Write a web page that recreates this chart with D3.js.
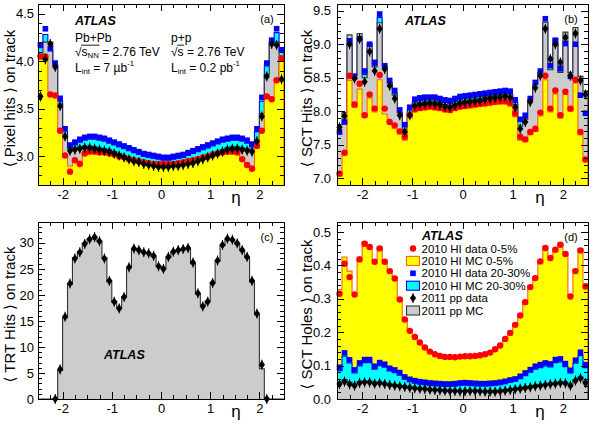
<!DOCTYPE html>
<html><head><meta charset="utf-8">
<script src="https://cdn.jsdelivr.net/npm/d3@7"></script>
<style>body{margin:0;background:#fff} text{white-space:pre}</style>
</head><body>
<svg id="c" width="595" height="425" xmlns="http://www.w3.org/2000/svg"></svg>
<script>
// ---------- categories / tick labels ----------
const etaEdges = d3.range(51).map(i => +(-2.5 + i * 0.1).toFixed(2));
const xTickLabels = ["-2", "-1", "0", "1", "2"];
const yTickLabelsA = ["3.0", "3.5", "4.0", "4.5"];
const yTickLabelsB = ["7.0", "7.5", "8.0", "8.5", "9.0", "9.5"];
const yTickLabelsC = ["0", "5", "10", "15", "20", "25", "30"];
const yTickLabelsD = ["0.0", "0.1", "0.2", "0.3", "0.4", "0.5"];
const legendLabels = ["2010 HI data 0-5%", "2010 HI MC 0-5%", "2010 HI data 20-30%", "2010 HI MC 20-30%", "2011 pp data", "2011 pp MC"];

// ---------- (a) Pixel hits ----------
const pixHIdata0_5 = [4.05,4.05,3.65,3.64,3.27,3.01,2.84,2.96,2.92,3.03, 3.05,3.05,3.04,3.04,3.03,3.02,3.00,2.99,2.97,2.96, 2.95,2.94,2.93,2.92,2.92,2.92,2.92,2.92,2.93,2.94, 2.95,2.96,2.97,2.99,3.00,3.02,3.03,3.04,3.05,3.05, 3.04,2.97,2.91,2.87,3.11,3.27,3.63,3.60,3.80,4.03];
const pixHIMC0_5   = [4.02,4.05,3.66,3.66,3.28,3.00,2.90,2.97,2.95,3.04, 3.06,3.06,3.05,3.04,3.03,3.02,3.01,2.99,2.98,2.97, 2.96,2.95,2.94,2.93,2.93,2.93,2.93,2.93,2.94,2.95, 2.96,2.97,2.98,3.00,3.01,3.03,3.04,3.05,3.06,3.06, 3.05,2.99,2.93,2.90,3.10,3.28,3.64,3.62,3.81,4.02];
const pixHIdata20_30 = [4.17,4.34,4.13,3.98,3.61,3.29,3.12,3.15,3.18,3.20, 3.21,3.21,3.20,3.19,3.17,3.15,3.13,3.11,3.09,3.07, 3.05,3.03,3.02,3.01,3.00,2.99,2.99,3.00,3.01,3.02, 3.04,3.06,3.08,3.10,3.12,3.14,3.16,3.18,3.19,3.20, 3.20,3.19,3.17,3.13,3.29,3.62,3.98,4.22,4.34,4.12];
const pixHIMC20_30   = [4.14,4.28,4.10,3.95,3.58,3.27,3.09,3.12,3.15,3.17, 3.18,3.18,3.17,3.16,3.14,3.12,3.10,3.08,3.06,3.04, 3.02,3.00,2.99,2.98,2.97,2.96,2.96,2.97,2.98,2.99, 3.01,3.03,3.05,3.07,3.09,3.11,3.13,3.15,3.16,3.17, 3.17,3.16,3.14,3.10,3.26,3.58,3.95,4.18,4.30,4.10];
const pixPPdata = [3.63,4.02,4.18,3.94,3.53,3.21,3.06,3.07,3.08,3.09, 3.09,3.08,3.07,3.06,3.05,3.03,3.01,2.99,2.97,2.95, 2.94,2.92,2.91,2.90,2.89,2.89,2.89,2.90,2.90,2.91, 2.92,2.93,2.95,2.97,2.99,3.01,3.03,3.05,3.07,3.08, 3.08,3.07,3.06,3.05,3.16,3.42,3.84,4.18,4.17,3.81];
const pixPPMC   = [3.72,4.20,4.20,3.96,3.55,3.22,3.08,3.09,3.10,3.11, 3.11,3.10,3.09,3.08,3.07,3.05,3.03,3.01,2.99,2.97, 2.95,2.94,2.93,2.92,2.91,2.91,2.91,2.91,2.92,2.93, 2.94,2.95,2.97,2.99,3.01,3.03,3.05,3.07,3.09,3.10, 3.10,3.09,3.08,3.07,3.17,3.45,3.86,4.20,4.20,3.82];

// ---------- (b) SCT hits ----------
const sctHIdata0_5 = [7.07,7.38,8.53,8.10,8.41,7.94,8.25,8.04,8.54,8.04, 7.84,7.79,7.70,7.62,7.95,8.03,8.05,8.06,8.07,8.06, 8.05,8.03,8.02,8.05,8.07,8.08,8.09,8.10,8.11,8.12, 8.13,8.14,8.15,8.15,8.12,7.97,7.62,7.58,7.69,7.74, 7.98,8.53,8.04,8.31,7.94,8.29,8.04,8.47,7.69,7.28];
const sctHIMC0_5   = [7.03,7.35,8.46,8.06,8.33,7.91,8.20,7.99,8.47,7.96, 7.81,7.74,7.66,7.57,7.90,7.99,8.01,8.02,8.03,8.02, 8.01,7.99,7.98,8.01,8.03,8.04,8.05,8.06,8.07,8.08, 8.09,8.10,8.11,8.11,8.08,7.92,7.57,7.55,7.65,7.70, 7.93,8.47,7.99,8.26,7.90,8.25,8.00,8.42,7.65,7.25];
const sctHIdata20_30 = [7.69,7.84,9.05,8.52,9.08,8.60,9.00,8.73,9.45,8.68, 8.46,8.31,8.02,7.80,8.06,8.18,8.20,8.21,8.21,8.21, 8.19,8.17,8.16,8.19,8.22,8.23,8.24,8.25,8.26,8.27, 8.28,8.29,8.30,8.31,8.30,8.17,7.88,7.94,8.19,8.43, 8.60,9.38,8.68,9.06,8.64,9.01,8.52,9.00,8.24,7.97];
const sctHIMC20_30   = [7.62,7.80,9.00,8.47,9.02,8.55,8.94,8.68,9.40,8.63, 8.42,8.27,7.97,7.78,8.02,8.14,8.16,8.17,8.17,8.17, 8.15,8.13,8.12,8.15,8.18,8.19,8.20,8.21,8.22,8.23, 8.24,8.25,8.26,8.27,8.26,8.13,7.85,7.90,8.15,8.39, 8.56,9.32,8.70,9.01,8.60,8.96,8.48,8.95,8.20,7.85];
const sctPPdata = [7.76,7.93,9.00,8.49,9.08,8.44,8.89,8.60,9.23,8.63, 8.38,8.19,7.94,7.69,7.94,8.08,8.10,8.11,8.12,8.11, 8.10,8.07,8.06,8.09,8.12,8.13,8.14,8.15,8.16,8.18, 8.19,8.20,8.21,8.22,8.20,8.06,7.74,7.84,8.14,8.35, 8.53,9.23,8.78,9.00,8.73,9.10,8.53,9.16,8.46,8.25];
const sctPPMC   = [7.80,7.98,9.14,8.55,9.16,8.50,9.01,8.66,9.32,8.68, 8.42,8.24,7.98,7.73,7.98,8.11,8.13,8.14,8.15,8.14, 8.13,8.10,8.09,8.12,8.15,8.16,8.17,8.18,8.19,8.21, 8.22,8.23,8.24,8.25,8.23,8.10,7.78,7.88,8.18,8.40, 8.58,9.33,8.62,9.08,8.58,9.18,8.58,9.25,8.52,8.30];

// ---------- (c) TRT hits ----------
const trtPPdata = [null,null,null,0,5.7,15.8,22.2,27.0,28.2,29.8, 30.7,31.1,30.3,27.0,22.7,18.7,17.4,19.6,25.3,28.9, 28.6,28.2,28.0,27.5,25.5,25.0,27.3,28.3,28.6,28.8, 29.0,26.2,20.3,17.8,18.7,22.3,26.6,29.6,30.8,30.6, 29.9,28.6,27.3,22.7,16.4,6.6,0,null,null,null];
const trtPPMC   = [0,0,0,0,5.5,15.6,22.0,27.1,28.3,29.9, 30.8,31.0,30.2,27.1,22.5,18.6,17.5,19.7,25.2,28.8, 28.5,28.1,27.9,27.4,25.6,25.1,27.2,28.2,28.5,28.7, 28.9,26.0,20.2,17.9,18.8,22.4,26.5,29.5,30.7,30.5, 29.8,28.5,27.2,22.5,16.2,5.8,0,0,0,0];

// ---------- (d) SCT holes ----------
const holHIdata0_5 = [0.315,0.405,0.365,0.313,0.418,0.465,0.455,0.411,0.451,0.411, 0.383,0.361,0.298,0.238,0.204,0.186,0.169,0.154,0.142,0.134, 0.129,0.126,0.126,0.125,0.127,0.128,0.128,0.129,0.131,0.134, 0.139,0.149,0.160,0.180,0.198,0.222,0.250,0.290,0.335,0.362, 0.412,0.452,0.422,0.447,0.462,0.434,0.307,0.383,0.445,0.337];
const holHIMC0_5   = [0.328,0.425,0.383,0.318,0.425,0.471,0.459,0.417,0.456,0.416, 0.386,0.366,0.302,0.242,0.208,0.190,0.172,0.157,0.145,0.137, 0.132,0.129,0.128,0.128,0.129,0.130,0.130,0.131,0.133,0.136, 0.141,0.152,0.163,0.183,0.201,0.225,0.254,0.294,0.339,0.366, 0.416,0.456,0.426,0.451,0.466,0.438,0.310,0.388,0.450,0.345];
const holHIdata20_30 = [0.095,0.138,0.117,0.087,0.108,0.118,0.118,0.098,0.109,0.104, 0.092,0.087,0.079,0.066,0.059,0.055,0.052,0.050,0.048,0.047, 0.046,0.045,0.045,0.046,0.048,0.049,0.048,0.047,0.046,0.046, 0.047,0.048,0.050,0.053,0.057,0.060,0.068,0.078,0.088,0.098, 0.103,0.108,0.105,0.118,0.120,0.106,0.086,0.116,0.140,0.103];
const holHIMC20_30   = [0.085,0.128,0.108,0.078,0.099,0.109,0.109,0.089,0.100,0.095, 0.084,0.079,0.071,0.059,0.052,0.048,0.045,0.043,0.041,0.040, 0.039,0.038,0.038,0.039,0.041,0.042,0.041,0.040,0.039,0.039, 0.040,0.041,0.043,0.046,0.050,0.053,0.061,0.070,0.080,0.089, 0.094,0.099,0.096,0.109,0.111,0.097,0.078,0.107,0.130,0.094];
const holPPdata = [0.045,0.052,0.044,0.040,0.048,0.050,0.050,0.046,0.048,0.045, 0.042,0.040,0.038,0.036,0.034,0.032,0.031,0.030,0.028,0.027, 0.026,0.025,0.024,0.024,0.023,0.023,0.024,0.024,0.023,0.022, 0.022,0.022,0.023,0.025,0.027,0.029,0.031,0.033,0.035,0.038, 0.040,0.042,0.044,0.046,0.048,0.047,0.040,0.055,0.062,0.048];
const holPPMC   = [0.050,0.058,0.050,0.044,0.052,0.054,0.053,0.050,0.051,0.048, 0.045,0.043,0.040,0.038,0.036,0.034,0.033,0.031,0.030,0.029, 0.028,0.027,0.026,0.026,0.025,0.025,0.026,0.026,0.025,0.025, 0.025,0.025,0.026,0.028,0.030,0.032,0.034,0.036,0.038,0.041, 0.043,0.045,0.047,0.049,0.051,0.050,0.044,0.058,0.066,0.052];

// ---------- styles / layout ----------
const FONT = '"Liberation Sans", Arial, Helvetica, "DejaVu Sans", sans-serif';
const ST = {
  yellow: {fill: "#ffff00", stroke: "#ff6600"},
  cyan:   {fill: "#00ffff", stroke: "#0000ee"},
  gray:   {fill: "#cccccc", stroke: "#333333"}
};
const xMajor = xTickLabels.map(Number);
const xMinor = d3.range(-2.5, 2.5001, 0.25).filter(v => Math.abs(v - Math.round(v)) > 1e-6);

const panels = [
  {id: "a", l: 38, t: 4, r: 284, b: 185, yDom: [2.7, 4.6], yLab: yTickLabelsA, yMinorStep: 0.1, pad: 4, ylx: 10,
   title: "\u27E8 Pixel hits \u27E9 on track", tag: "(a)",
   hists: [["cyan", pixHIMC20_30], ["gray", pixPPMC], ["yellow", pixHIMC0_5]],
   blue: pixHIdata20_30, red: pixHIdata0_5, black: pixPPdata},
  {id: "b", l: 337, t: 4, r: 588, b: 185, yDom: [6.9, 9.6], yLab: yTickLabelsB, yMinorStep: 0.1, pad: 6, ylx: 307,
   title: "\u27E8 SCT Hits \u27E9 on track", tag: "(b)",
   hists: [["cyan", sctHIMC20_30], ["gray", sctPPMC], ["yellow", sctHIMC0_5]],
   blue: sctHIdata20_30, red: sctHIdata0_5, black: sctPPdata},
  {id: "c", l: 38, t: 222, r: 284, b: 399, yDom: [0, 34], yLab: yTickLabelsC, yMinorStep: 1, pad: 4, ylx: 10,
   title: "\u27E8 TRT Hits \u27E9 on track", tag: "(c)",
   hists: [["gray", trtPPMC]],
   blue: null, red: null, black: trtPPdata},
  {id: "d", l: 337, t: 222, r: 588, b: 399, yDom: [0, 0.53], yLab: yTickLabelsD, yMinorStep: 0.02, pad: 6, ylx: 307,
   title: "\u27E8 SCT Holes \u27E9 on track", tag: "(d)",
   hists: [["yellow", holHIMC0_5], ["cyan", holHIMC20_30], ["gray", holPPMC]],
   blue: holHIdata20_30, red: holHIdata0_5, black: holPPdata}
];

const svg = d3.select("#c");
const defs = svg.append("defs");

function diamond(g, cx, cy) {
  g.append("line").attr("x1", cx).attr("x2", cx).attr("y1", cy - 5).attr("y2", cy + 5)
    .attr("stroke", "#000").attr("stroke-width", 1);
  g.append("path").attr("d", `M${cx},${cy - 4.3}L${cx + 3.1},${cy}L${cx},${cy + 4.3}L${cx - 3.1},${cy}Z`).attr("fill", "#000");
}

panels.forEach(p => {
  const x = d3.scaleLinear().domain([-2.5, 2.5]).range([p.l, p.r]);
  const y = d3.scaleLinear().domain(p.yDom).range([p.b, p.t]);
  const g = svg.append("g");
  defs.append("clipPath").attr("id", "clip" + p.id).append("rect")
    .attr("x", p.l).attr("y", p.t).attr("width", p.r - p.l).attr("height", p.b - p.t);
  const body = g.append("g").attr("clip-path", `url(#clip${p.id})`);

  // histograms
  p.hists.forEach(([key, vals]) => {
    let d = `M${x(etaEdges[0])},${p.b + 2}`;
    vals.forEach((v, i) => { d += `L${x(etaEdges[i])},${y(v)}L${x(etaEdges[i + 1])},${y(v)}`; });
    d += `L${x(etaEdges[50])},${p.b + 2}Z`;
    body.append("path").attr("d", d).attr("fill", ST[key].fill)
      .attr("stroke", ST[key].stroke).attr("stroke-width", 1.1);
  });

  const cx = i => x((etaEdges[i] + etaEdges[i + 1]) / 2);
  const mk = g.append("g");
  if (p.blue) p.blue.forEach((v, i) => {
    if (v == null) return;
    mk.append("rect").attr("x", cx(i) - 2.8).attr("y", y(v) - 2.8).attr("width", 5.6).attr("height", 5.6).attr("fill", "#0000ff");
  });
  if (p.red) p.red.forEach((v, i) => {
    if (v == null) return;
    mk.append("circle").attr("cx", cx(i)).attr("cy", y(v)).attr("r", 3.2).attr("fill", "#ff0000");
  });
  p.black.forEach((v, i) => { if (v != null) diamond(mk, cx(i), y(v)); });

  // axes
  const style = s => { s.select(".domain").remove(); s.attr("font-size", 13).attr("font-family", FONT);
    s.selectAll("line").attr("shape-rendering", "crispEdges"); };
  const yMajor = p.yLab.map(Number);
  const yMinor = d3.range(p.yDom[0], p.yDom[1] + 1e-9, p.yMinorStep)
    .filter(v => !yMajor.some(m => Math.abs(m - v) < p.yMinorStep * 0.01));
  g.append("g").attr("transform", `translate(0,${p.b})`)
    .call(d3.axisBottom(x).tickValues(xMajor).tickFormat((d, i) => xTickLabels[i]).tickSize(-7).tickPadding(5)).call(style);
  g.append("g").attr("transform", `translate(0,${p.b})`)
    .call(d3.axisBottom(x).tickValues(xMinor).tickFormat("").tickSize(-4)).call(style);
  g.append("g").attr("transform", `translate(0,${p.t})`)
    .call(d3.axisTop(x).tickValues(xMajor).tickFormat("").tickSize(-7)).call(style);
  g.append("g").attr("transform", `translate(0,${p.t})`)
    .call(d3.axisTop(x).tickValues(xMinor).tickFormat("").tickSize(-4)).call(style);
  g.append("g").attr("transform", `translate(${p.l},0)`)
    .call(d3.axisLeft(y).tickValues(yMajor).tickFormat((d, i) => p.yLab[i]).tickSize(-7).tickPadding(p.pad)).call(style);
  g.append("g").attr("transform", `translate(${p.l},0)`)
    .call(d3.axisLeft(y).tickValues(yMinor).tickFormat("").tickSize(-4)).call(style);
  g.append("g").attr("transform", `translate(${p.r},0)`)
    .call(d3.axisRight(y).tickValues(yMajor).tickFormat("").tickSize(-7)).call(style);
  g.append("g").attr("transform", `translate(${p.r},0)`)
    .call(d3.axisRight(y).tickValues(yMinor).tickFormat("").tickSize(-4)).call(style);

  g.append("rect").attr("x", p.l).attr("y", p.t).attr("width", p.r - p.l).attr("height", p.b - p.t)
    .attr("fill", "none").attr("stroke", "#000").attr("stroke-width", 1).attr("shape-rendering", "crispEdges");

  // titles
  g.append("text").attr("transform", `translate(${p.ylx + 5},${(p.t + p.b) / 2 + 4}) rotate(-90)`)
    .attr("text-anchor", "middle").attr("font-size", 15).attr("font-family", FONT).text(p.title);
  g.append("text").attr("x", p.r - 48).attr("y", p.b + 18).attr("text-anchor", "middle")
    .attr("font-size", 17).attr("font-family", FONT).text("\u03B7");
  g.append("text").attr("x", p.r - 17).attr("y", p.t + 19).attr("text-anchor", "middle")
    .attr("font-size", 11).attr("font-family", FONT).text(p.tag);
});

// ATLAS labels
[[75, 25], [405, 25], [104, 359], [422, 239.5]].forEach(([ax, ay]) => {
  svg.append("text").attr("x", ax).attr("y", ay).attr("font-size", 12.5).attr("font-weight", "bold")
    .attr("font-style", "italic").attr("font-family", FONT).text("ATLAS");
});

// rich text helper
function rich(x0, yb, parts, size) {
  let cx = x0; const ext = [];
  parts.forEach(pt => {
    const fs = (pt.sub || pt.sup) ? size * 0.65 : size;
    const dy = pt.sub ? size * 0.2 : pt.sup ? -size * 0.42 : 0;
    const t = svg.append("text").attr("x", cx).attr("y", yb + dy).attr("font-size", fs)
      .attr("font-family", FONT).attr("xml:space", "preserve").text(pt.t);
    const w = t.node().getComputedTextLength();
    ext.push([cx, cx + w]); cx += w;
  });
  return ext;
}
const FS = 12;
rich(75, 41.5, [{t: "Pb+Pb"}], FS);
let e1 = rich(75, 55.5, [{t: "\u221A"}, {t: "s"}, {t: "NN", sub: 1}, {t: " = 2.76 TeV"}], FS);
svg.append("line").attr("x1", e1[0][1] - 0.5).attr("x2", e1[2][1] + 0.5).attr("y1", 55.5 - FS * 0.86).attr("y2", 55.5 - FS * 0.86)
  .attr("stroke", "#000").attr("stroke-width", 0.9);
rich(75, 71.5, [{t: "L"}, {t: "int", sub: 1}, {t: " = 7 \u00B5b"}, {t: "-1", sup: 1}], FS);
rich(171, 41.5, [{t: "p+p"}], FS);
let e2 = rich(171, 55.5, [{t: "\u221A"}, {t: "s"}, {t: " = 2.76 TeV"}], FS);
svg.append("line").attr("x1", e2[0][1] - 0.5).attr("x2", e2[1][1] + 0.5).attr("y1", 55.5 - FS * 0.86).attr("y2", 55.5 - FS * 0.86)
  .attr("stroke", "#000").attr("stroke-width", 0.9);
rich(171, 71.5, [{t: "L"}, {t: "int", sub: 1}, {t: " = 0.2 pb"}, {t: "-1", sup: 1}], FS);

// legend in (d)
const lg = svg.append("g");
const legKinds = ["red", "yellow", "blue", "cyan", "black", "gray"];
legendLabels.forEach((lab, i) => {
  const cy = 248.5 + i * 12.4;
  const k = legKinds[i];
  if (k === "red") lg.append("circle").attr("cx", 413).attr("cy", cy).attr("r", 3.2).attr("fill", "#ff0000");
  else if (k === "blue") lg.append("rect").attr("x", 410.2).attr("y", cy - 2.8).attr("width", 5.6).attr("height", 5.6).attr("fill", "#0000ff");
  else if (k === "black") diamond(lg, 413, cy);
  else lg.append("rect").attr("x", 406.5).attr("y", cy - 4.5).attr("width", 13).attr("height", 9)
    .attr("fill", ST[k].fill).attr("stroke", ST[k].stroke).attr("stroke-width", 1.1);
  lg.append("text").attr("x", 421.5).attr("y", cy + 4).attr("font-size", 11.5).attr("font-family", FONT).text(lab);
});
</script>
</body></html>
